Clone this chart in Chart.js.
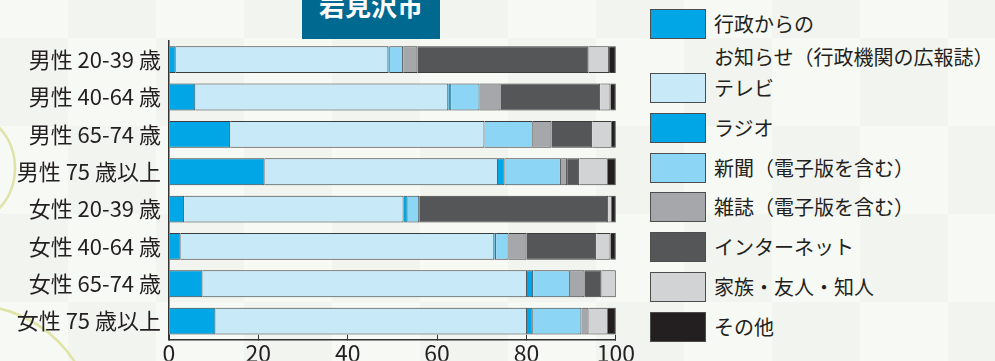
<!DOCTYPE html>
<html lang="ja">
<head>
<meta charset="utf-8">
<script src="https://cdn.jsdelivr.net/npm/chart.js@4.4.1/dist/chart.umd.min.js"></script>
<style>
  html, body {
    margin: 0;
    padding: 0;
  }
  body {
    width: 995px;
    height: 361px;
    overflow: hidden;
    position: relative;
    background-color: #f7f9f5;
    background-image: conic-gradient(#f1f4ef 25%, transparent 0 50%, #f1f4ef 0 75%, transparent 0);
    background-size: 176px 176px;
    background-position: -20px -50px;
    font-family: "Noto Sans CJK JP", "Noto Sans", sans-serif;
    color: #231f20;
  }
  #deco {
    position: absolute;
    left: 0;
    top: 0;
  }
  #chartBox {
    position: absolute;
    left: 0;
    top: 0;
  }
  #title {
    position: absolute;
    left: 302px;
    top: 0;
    width: 138px;
    height: 39px;
    background: #006990;
    overflow: hidden;
  }
  #title span {
    position: absolute;
    left: 0;
    top: -8px;
    width: 100%;
    text-align: center;
    color: #fff;
    font-size: 26px;
    line-height: 26px;
    font-weight: bold;
  }
  #legend {
    position: absolute;
    left: 650px;
    top: 0;
    width: 345px;
    height: 361px;
  }
  .item {
    position: absolute;
    left: 0;
    width: 345px;
    display: flex;
    align-items: flex-start;
  }
  .swatch {
    width: 54px;
    height: 28px;
    border: 1px solid #4d4d4d;
    flex: none;
  }
  .name {
    margin-left: 8px;
    font-size: 20px;
    line-height: 33px;
    margin-top: -2px;
    white-space: pre;
  }
</style>
</head>
<body>
<svg id="deco" width="995" height="361">
  <circle cx="-45" cy="168" r="60" fill="none" stroke="#dfe4a6" stroke-width="2.5"/>
  <circle cx="-30" cy="430" r="125" fill="none" stroke="#dfe4a6" stroke-width="2.5"/>
</svg>
<div id="chartBox"><canvas id="chart" width="640" height="361"></canvas></div>
<div id="title"><span>岩見沢市</span></div>
<div id="legend"></div>
<script>
// 回答者区分
const categories = [
  "男性 20-39 歳", "男性 40-64 歳", "男性 65-74 歳", "男性 75 歳以上",
  "女性 20-39 歳", "女性 40-64 歳", "女性 65-74 歳", "女性 75 歳以上"
];

// 情報源ごとの割合 (%)
const koho      = [1.5, 5.9, 13.7, 21.4, 3.4, 2.6, 7.5, 10.4];
const tv        = [47.6, 56.6, 56.9, 52.2, 49.1, 70.2, 72.6, 69.7];
const radio     = [0.3, 0.7, 0, 1.5, 0.9, 0.4, 1.4, 1.3];
const shinbun   = [3.0, 6.3, 10.8, 12.6, 2.6, 2.8, 8.2, 10.9];
const zasshi    = [3.2, 4.7, 4.2, 1.4, 0, 4.0, 3.3, 1.6];
const internet  = [38.3, 22.3, 9.1, 2.7, 42.3, 15.6, 3.8, 0];
const kazoku    = [4.6, 2.3, 4.4, 6.4, 0.8, 3.2, 3.2, 4.3];
const sonota    = [1.5, 1.2, 0.9, 1.8, 0.9, 1.2, 0, 1.8];

const xTicks = [0, 20, 40, 60, 80, 100];

const seriesNames = [
  "行政からの\nお知らせ（行政機関の広報誌）",
  "テレビ",
  "ラジオ",
  "新聞（電子版を含む）",
  "雑誌（電子版を含む）",
  "インターネット",
  "家族・友人・知人",
  "その他"
];
const seriesData = [koho, tv, radio, shinbun, zasshi, internet, kazoku, sonota];
const seriesColors = [
  "#00a6e6", "#c8e9f8", "#00a6e6", "#8cd5f5",
  "#a6a7ab", "#555658", "#d2d3d5", "#231f20"
];

const font = "'Noto Sans CJK JP', 'Noto Sans', sans-serif";

const datasets = seriesNames.map((name, i) => ({
  label: name,
  data: seriesData[i],
  backgroundColor: seriesColors[i],
  borderColor: "rgba(40,40,40,0.9)",
  borderWidth: 1,
  borderSkipped: "start",
  barPercentage: 0.9,
  categoryPercentage: 0.8
}));

new Chart(document.getElementById("chart"), {
  type: "bar",
  data: { labels: categories, datasets: datasets },
  options: {
    indexAxis: "y",
    responsive: false,
    animation: false,
    layout: { padding: { top: 41, right: 23, left: 0, bottom: 0 } },
    plugins: {
      legend: { display: false },
      tooltip: { enabled: false }
    },
    scales: {
      y: {
        stacked: true,
        grid: { display: false, drawTicks: false },
        border: { display: true, color: "#333", width: 1.5 },
        ticks: {
          padding: 8,
          color: "#231f20",
          font: { family: font, size: 22 }
        },
        afterFit: (scale) => { scale.width = 169; }
      },
      x: {
        stacked: true,
        min: 0,
        max: 100,
        afterBuildTicks: (scale) => {
          scale.ticks = xTicks.map(v => ({ value: v }));
        },
        grid: {
          drawOnChartArea: false,
          drawTicks: true,
          tickLength: -5,
          color: "#333",
          lineWidth: 1
        },
        border: { display: true, color: "#333", width: 1.5 },
        ticks: {
          padding: 5,
          color: "#231f20",
          font: { family: font, size: 23 }
        },
        afterFit: (scale) => { scale.height = 21; }
      }
    }
  }
});

// 凡例
const legend = document.getElementById("legend");
seriesNames.forEach((name, i) => {
  const item = document.createElement("div");
  item.className = "item";
  item.style.top = (i === 0 ? 9 : 73 + (i - 1) * 39.8) + "px";
  const sw = document.createElement("div");
  sw.className = "swatch";
  sw.style.background = seriesColors[i];
  const tx = document.createElement("div");
  tx.className = "name";
  tx.textContent = name;
  item.appendChild(sw);
  item.appendChild(tx);
  legend.appendChild(item);
});
</script>
</body>
</html>
